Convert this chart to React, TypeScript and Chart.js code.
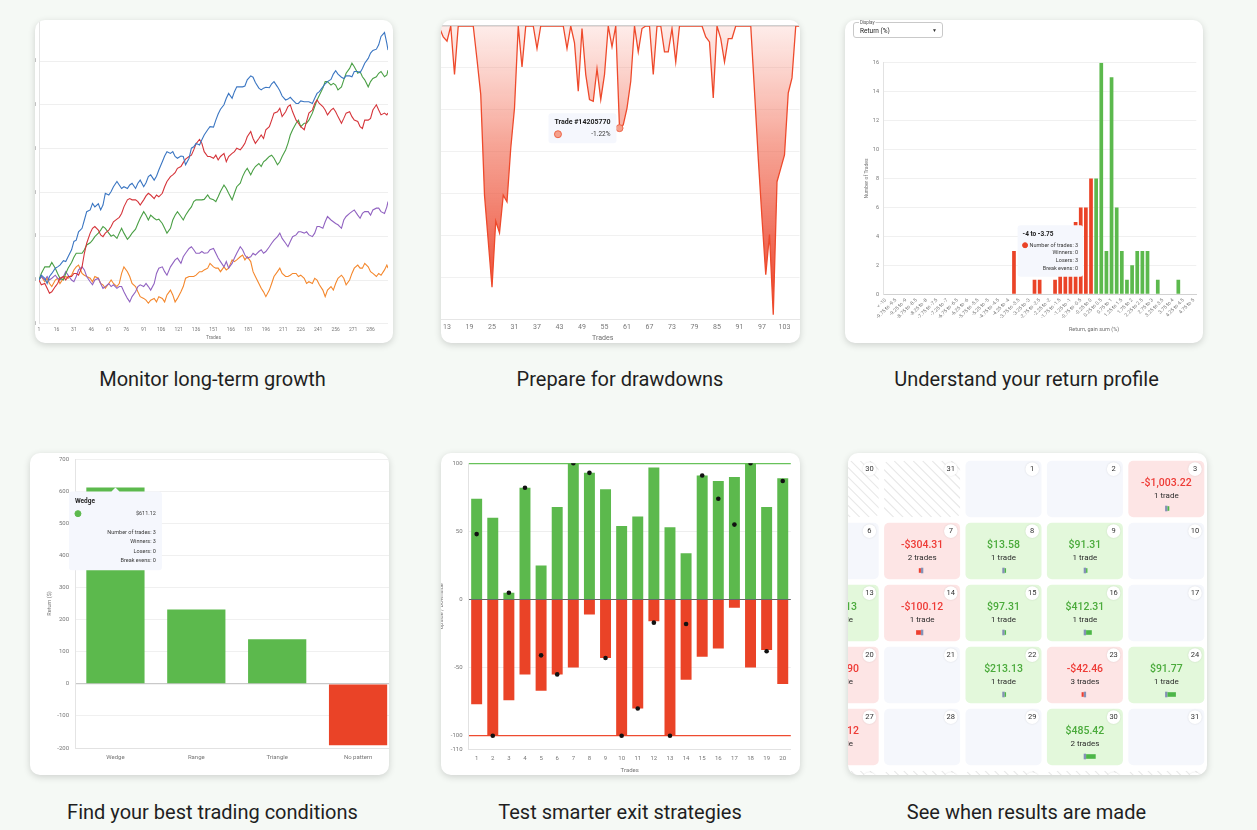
import React, { useEffect, useRef } from 'react';
import { Chart, registerables } from 'chart.js';

Chart.register(...registerables);
Chart.defaults.font.family = 'Roboto, "Noto Sans", sans-serif';
Chart.defaults.color = '#6f6f6f';

const PAGE_BG = '#f5f9f5';
const GREEN = '#5cb94d';
const RED = '#ea4327';

/* ---------- Monitor long-term growth: five equity paths ($) ---------- */
const GROWTH_TRADES = [
  1, 3, 6, 8, 10, 12, 15, 17, 19, 22, 24, 26, 29, 31, 33, 35, 38, 40, 42, 45, 47, 49, 52, 54, 56, 58, 61, 63, 65, 68,
  70, 72, 74, 77, 79, 81, 84, 86, 88, 91, 93, 95, 97, 100, 102, 104, 107, 109, 111, 114, 116, 118, 120, 123, 125, 127,
  130, 132, 134, 136, 139, 141, 143, 146, 148, 151, 153, 155, 157, 160, 162, 164, 167, 169, 171, 174, 176, 178, 180,
  183, 185, 187, 190, 192, 194, 196, 199, 201, 203, 206, 208, 210, 213, 215, 217, 219, 222, 224, 226, 229, 231, 233,
  236, 238, 240, 242, 245, 247, 249, 252, 254, 256, 258, 261, 263, 265, 268, 270, 272, 275, 277, 279, 281, 284, 286,
  288, 291, 293, 295, 298, 300, 301,
];
const GROWTH_TICKS = [1, 16, 31, 46, 61, 76, 91, 106, 121, 136, 151, 166, 181, 196, 211, 226, 241, 256, 271, 286];
const PATH_BLUE = [
  0, 110, 40, -80, 80, 150, 270, 300, 340, 440, 420, 530, 690, 880, 910, 1100, 1180, 1370, 1560, 1600, 1750, 1670,
  1740, 1600, 1710, 1980, 1940, 2020, 2130, 2250, 2170, 2090, 2130, 2090, 2170, 2210, 2090, 2210, 2280, 2130, 2220,
  2360, 2400, 2280, 2370, 2510, 2700, 2830, 2930, 2890, 2930, 2820, 2780, 2830, 2820, 2630, 2780, 3010, 3040, 3120,
  3080, 3200, 3310, 3430,
  3500, 3490, 3650, 3790, 3900, 4000, 4150, 4260, 4150, 4300, 4410, 4410, 4410, 4430, 4570, 4660, 4630, 4510, 4380,
  4340, 4380, 4400, 4390, 4480, 4530, 4410, 4320, 4200, 4110, 4130, 4170, 4110, 4030, 4030, 4090, 4070, 4070, 4070,
  4030, 4150, 4260, 4300, 4410, 4480, 4530, 4580, 4700, 4780, 4700, 4630, 4600, 4660, 4660, 4640, 4760, 4760, 4730,
  4830, 4950, 5060, 5180, 5240, 5270, 5370, 5560, 5650, 5400, 5250,
];
const PATH_RED = [
  0, -110, -80, -190, -300, -270, -150, -80, 40, 80, 0, 80, 80, 150, 150, 110, 300, 610, 840, 1070, 1180, 1220, 1140,
  1030, 990, 1070, 1140, 1220, 1330, 1390, 1430, 1520, 1670, 1830, 1860, 1830, 1830, 1790, 1710, 1830, 1920, 1980,
  1940, 1860, 1940, 1900, 1980, 2130, 2250, 2360, 2400, 2450, 2550, 2590, 2680, 2760, 2820, 2850, 2970, 3110, 3210,
  3120, 2930, 2820,
  2820, 2780, 2850, 2740, 2820, 2890, 2700, 2820, 2890, 2930, 3010, 2970, 3040, 3120, 3270, 3390, 3230, 3120, 3230,
  3310, 3230, 3430, 3500, 3650, 3810, 3840, 3920, 3730, 3840, 3960, 4000, 3840, 3650, 3580, 3500, 3430, 3620, 3810,
  3880, 4030, 4110, 4030, 3960, 3880, 3770, 3880, 3920, 3840, 3730, 3580, 3690, 3810, 3840, 3730, 3650, 3620, 3500,
  3460, 3650, 3650, 3690, 3880, 4000, 3880, 3770, 3810, 3770, 3810,
];
const PATH_GREEN = [
  0, 150, 300, 300, 300, 400, 270, 150, 40, 0, 150, 270, 400, 520, 610, 610, 610, 690, 800, 850, 910, 990, 1070, 1140,
  1220, 1180, 1070, 1000, 1030, 950, 1070, 1180, 1070, 930, 990, 1070, 1160, 1290, 1410, 1560, 1480, 1370, 1480, 1410,
  1370, 1390, 1290, 1180, 1070, 1180, 1370, 1480, 1560, 1450, 1370, 1480, 1600, 1670, 1790, 1830, 1830, 1830, 1840,
  1940,
  1860, 1830, 1790, 1900, 2020, 2170, 2090, 1980, 1830, 1980, 2130, 2210, 2360, 2470, 2550, 2400, 2510, 2590, 2660,
  2590, 2700, 2740, 2820, 2850, 2780, 2630, 2700, 2820, 2970, 3120, 3310, 3430, 3580, 3650, 3500, 3580, 3580, 3650,
  3810, 3960, 4110, 4220, 4380, 4530, 4530, 4450, 4490, 4450, 4340, 4410, 4570, 4720, 4830, 4950, 4870, 4720, 4760,
  4640, 4570, 4410, 4530, 4600, 4640, 4720, 4760, 4640, 4680, 4790,
];
const PATH_PURPLE = [
  0, 80, 0, 80, 0, 40, 110, 40, 0, 80, 190, 110, 0, -40, 80, 230, 300, 230, 80, -40, -110, 0, 40, -80, -190, -150,
  -80, -150, -110, -190, -150, -150, -270, -420, -500, -380, -270, -150, -110, -150, -80, -150, -230, -80, 150, 270,
  300, 190, 110, 300, 380, 460, 500, 380, 530, 610, 720, 760, 690, 610, 610, 650, 610, 620,
  690, 720, 610, 500, 420, 300, 420, 270, 380, 500, 610, 760, 690, 570, 500, 530, 610, 570, 650, 690, 610, 650, 760,
  840, 910, 990, 1070, 950, 840, 760, 880, 990, 1030, 1100, 1100, 1070, 1100, 1030, 990, 1070, 1220, 1220, 1180, 1330,
  1450, 1370, 1330, 1290, 1260, 1180, 1370, 1450, 1520, 1560, 1600, 1480, 1410, 1520, 1560, 1560, 1480, 1600, 1640,
  1640, 1560, 1520, 1670, 1790,
];
const PATH_ORANGE = [
  0, 80, -40, 40, -80, -150, 0, 40, -80, 40, 80, 40, 110, 230, 300, 340, 150, 110, 80, 40, -40, 80, 40, -80, -110,
  -190, -80, 0, -80, -150, -80, 150, 300, 190, 80, -80, -150, -270, -380, -420, -460, -530, -460, -420, -500, -380,
  -420, -500, -340, -230, -340, -500, -420, -270, -150, 40, 80, 80, 80, 110, 190, 190, 230, 270,
  380, 300, 270, 270, 190, 300, 230, 270, 460, 420, 460, 530, 570, 460, 530, 420, 190, 80, -80, -190, -270, -380, -230,
  -80, 80, 190, 270, 150, 80, 80, 110, 150, 150, 80, 110, 40, -80, -40, -80, 40, 0, -110, -230, -380, -230, -150, -230,
  -80, 40, 110, 40, -110, 0, 150, 270, 340, 270, 270, 380, 300, 190, 150, 80, 150, 110, 230, 340, 270,
];
const PATH_COLORS = ['#3b76c2', '#d5343a', '#4a9f45', '#9163c1', '#f4872c'];

/* ---------- Prepare for drawdowns: drawdown per trade (%) ---------- */
const DD_TRADES = [
  11, 12, 13, 14, 15, 16, 17, 18, 19, 20, 21, 22, 23, 24, 25, 26, 27, 28, 29, 30, 31, 32, 33, 34, 35, 36, 37, 38, 39,
  40, 41, 42, 43, 44, 45, 46, 47, 48, 49, 50, 51, 52, 53, 54, 55, 56, 57, 58, 59, 60, 61, 62, 63, 64, 65, 66, 67, 68,
  69, 70, 71, 72, 73, 74, 75, 76, 77, 78, 79, 80, 81, 82, 83, 84, 85, 86, 87, 88, 89, 90, 91, 92, 93, 94, 95, 96, 97,
  98, 99, 100, 101, 102, 103, 104, 105, 106, 107,
];
const DD_TICKS = [13, 19, 25, 31, 37, 43, 49, 55, 61, 67, 73, 79, 85, 91, 97, 103];
const DD_VALUES = [
  -0.02, -0.13, -0.18, 0, -0.58, 0, 0, 0, 0, 0, -0.4, -0.82, -2.02, -2.57, -3.12, -2.33, -2.47, -2.02, -2.1, -1.46,
  -0.98, 0, -0.49, 0, 0, 0, -0.27, 0, 0, 0, 0, 0, 0, 0, -0.27, 0, -0.2, -0.78, -0.03, -0.58, -0.88, -0.9, -0.51, -0.88,
  -0.58, 0, -0.25, 0, -1.22, -1.18, -0.98, -0.66, 0, -0.31, -0.03, 0, 0, -0.58, 0, 0, -0.31, -0.31, -0.03, -0.43, 0,
  0, 0, 0, 0, 0, 0, -0.13, -0.19, -0.86, 0, -0.15, -0.43, -0.15, -0.15, 0, 0, 0, 0, 0, -0.78, -1.58, -2.3, -2.97,
  -2.49, -3.45, -1.86, -1.7, -1.54, -0.8, -0.62, 0, 0,
];
const DD_FOCUS_TRADE = 59;
const DD_FOCUS_ID = '14205770';

/* ---------- Understand your return profile: histogram ---------- */
const RETURN_BINS = [
  '< -10', '-10 to -9.75', '-9.75 to -9.5', '-9.5 to -9.25', '-9.25 to -9', '-9 to -8.75', '-8.75 to -8.5',
  '-8.5 to -8.25', '-8.25 to -8', '-8 to -7.75', '-7.75 to -7.5', '-7.5 to -7.25', '-7.25 to -7', '-7 to -6.75',
  '-6.75 to -6.5', '-6.5 to -6.25', '-6.25 to -6', '-6 to -5.75', '-5.75 to -5.5', '-5.5 to -5.25', '-5.25 to -5',
  '-5 to -4.75', '-4.75 to -4.5', '-4.5 to -4.25', '-4.25 to -4', '-4 to -3.75', '-3.75 to -3.5', '-3.5 to -3.25',
  '-3.25 to -3', '-3 to -2.75', '-2.75 to -2.5', '-2.5 to -2.25', '-2.25 to -2', '-2 to -1.75', '-1.75 to -1.5',
  '-1.5 to -1.25', '-1.25 to -1', '-1 to -0.75', '-0.75 to -0.5', '-0.5 to -0.25', '-0.25 to 0', '0 to 0.25',
  '0.25 to 0.5', '0.5 to 0.75', '0.75 to 1', '1 to 1.25', '1.25 to 1.5', '1.5 to 1.75', '1.75 to 2', '2 to 2.25',
  '2.25 to 2.5', '2.5 to 2.75', '2.75 to 3', '3 to 3.25', '3.25 to 3.5', '3.5 to 3.75', '3.75 to 4', '4 to 4.25',
  '4.25 to 4.5', '4.5 to 4.75', '4.75 to 5',
];
const BIN_COUNTS = [
  0, 0, 0, 0, 0, 0, 0, 0, 0, 0, 0, 0, 0, 0, 0, 0, 0, 0, 0, 0, 0, 0, 0, 0, 0, 3, 0, 0, 0, 1, 1, 0, 0, 1, 2, 2, 3, 5, 6,
  6, 8, 8, 16, 3, 15, 6, 3, 1, 2, 3, 3, 3, 0, 1, 0, 0, 0, 1, 0, 0, 0,
];
const BIN_FOCUS = 25;

/* ---------- Find your best trading conditions ---------- */
const PATTERNS = ['Wedge', 'Range', 'Triangle', 'No pattern'];
const PATTERN_RETURNS = [611.12, 231.7, 138.4, -191.2];
const PATTERN_TRADES = [3, 4, 3, 5];
const PATTERN_WINNERS = [3, 3, 2, 1];
const PATTERN_LOSERS = [0, 1, 1, 4];
const PATTERN_BREAKEVENS = [0, 0, 0, 0];

/* ---------- Test smarter exit strategies ---------- */
const EXIT_TRADES = [1, 2, 3, 4, 5, 6, 7, 8, 9, 10, 11, 12, 13, 14, 15, 16, 17, 18, 19, 20];
const UPSIDE = [74, 60, 5, 82, 25, 68, 100, 93, 81, 54, 61, 97, 53, 34, 91, 87, 90, 100, 68, 89];
const DOWNSIDE = [-77, -100, -74, -55, -67, -55, -50, -11, -43, -100, -80, -16, -100, -59, -42, -36, -6, -50, -37, -62];
const EXIT_AT = [48, -100, 5, 82, -41, -55, 100, 93, -43, -100, -80, -17, -100, -18, 91, 74, 55, 100, -38, 87];

/* ---------- See when results are made: calendar ---------- */
const CAL_WEEKS = [
  [30, 31, 1, 2, 3],
  [6, 7, 8, 9, 10],
  [13, 14, 15, 16, 17],
  [20, 21, 22, 23, 24],
  [27, 28, 29, 30, 31],
  [3, 4, 5, 6, 7],
];
const PNL_DAYS = [3, 7, 8, 9, 13, 14, 15, 16, 20, 22, 23, 24, 27, 30];
const PNL_AMOUNTS = [-1003.22, -304.31, 13.58, 91.31, 45.13, -100.12, 97.31, 412.31, -87.9, 213.13, -42.46, 91.77, -14.12, 485.42];
const PNL_TRADES = [1, 2, 1, 1, 1, 1, 1, 1, 1, 1, 3, 1, 1, 2];
const PNL_R = [0.6, -0.7, 0.45, 0.45, 0.5, -1.6, 0.45, 1.9, -1, 0.45, -0.7, 2.8, -0.9, 3.2];

/* ---------- shared helpers ---------- */
const baseOptions = {
  animation: false,
  responsive: false,
  maintainAspectRatio: false,
  events: [],
};

function pinTooltip(chart: any, datasetIndex: number, index: number, hover: boolean) {
  const el = chart.getDatasetMeta(datasetIndex).data[index];
  if (hover) chart.setActiveElements([{ datasetIndex, index }]);
  chart.tooltip.setActiveElements([{ datasetIndex, index }], { x: el.x, y: el.y });
  chart.update();
}

function captionPlugin(text: string, x: number, y: number, size: number) {
  return {
    id: 'axisCaption',
    afterDraw(chart: any) {
      const c = chart.ctx;
      c.save();
      c.font = `${size}px Roboto, sans-serif`;
      c.fillStyle = '#6f6f6f';
      c.textAlign = 'center';
      c.textBaseline = 'middle';
      c.fillText(text, x, y);
      c.restore();
    },
  };
}

const tooltipLook = {
  enabled: true,
  backgroundColor: '#f5f7fd',
  titleColor: '#1d1d1d',
  bodyColor: '#3a3a3a',
  footerColor: '#3a3a3a',
  borderWidth: 0,
  cornerRadius: 3,
  displayColors: true,
  usePointStyle: true,
  bodyAlign: 'right',
};

/* ---------- chart configs ---------- */
function growthConfig() {
  const series = [PATH_BLUE, PATH_RED, PATH_GREEN, PATH_PURPLE, PATH_ORANGE];
  return {
    type: 'line',
    data: {
      datasets: series.map((vals, i) => ({
        data: vals.map((v, j) => ({ x: GROWTH_TRADES[j], y: v })),
        borderColor: PATH_COLORS[i],
        borderWidth: 1.1,
        pointRadius: 0,
        tension: 0,
      })),
    },
    options: {
      ...baseOptions,
      layout: { padding: { top: 7.2, right: 5, bottom: 0, left: 0 } },
      plugins: { legend: { display: false }, tooltip: { enabled: false } },
      scales: {
        x: {
          type: 'linear',
          min: 1,
          max: 301,
          afterBuildTicks: (s: any) => {
            s.ticks = GROWTH_TICKS.map((v) => ({ value: v }));
          },
          afterFit: (s: any) => {
            s.height = 19.2;
          },
          grid: { display: false, drawTicks: false },
          border: { display: false },
          ticks: { font: { size: 5 }, color: '#7a7a7a', padding: 3, maxRotation: 0, autoSkip: false },
          title: { display: true, text: 'Trades', font: { size: 5 }, color: '#777', padding: { top: 0, bottom: 2 } },
        },
        y: {
          min: -1000,
          max: 6000,
          afterFit: (s: any) => {
            s.width = 30;
          },
          grid: { color: '#efefef', drawTicks: false },
          border: { color: '#e4e4e4' },
          ticks: { stepSize: 1000, font: { size: 5 }, color: '#7a7a7a', padding: 3 },
        },
      },
    },
  };
}

function drawdownConfig() {
  return {
    type: 'line',
    data: {
      labels: DD_TRADES,
      datasets: [
        {
          data: DD_VALUES,
          borderColor: '#ee4a2c',
          borderWidth: 1.3,
          pointRadius: 0,
          pointHoverRadius: 3.5,
          pointHoverBackgroundColor: '#f5a18c',
          pointHoverBorderColor: '#ee6548',
          pointHoverBorderWidth: 1,
          tension: 0,
          fill: 'origin',
          backgroundColor: (ctx: any) => {
            const { chart } = ctx;
            const area = chart.chartArea;
            if (!area) return 'rgba(238,80,55,0.4)';
            const g = chart.ctx.createLinearGradient(0, area.top, 0, area.bottom);
            g.addColorStop(0, 'rgba(246,120,100,0.14)');
            g.addColorStop(0.4, 'rgba(240,100,75,0.58)');
            g.addColorStop(1, 'rgba(234,58,34,1)');
            return g;
          },
        },
      ],
    },
    options: {
      ...baseOptions,
      layout: { padding: { top: 6, right: 5.5, bottom: 0, left: 0 } },
      plugins: {
        legend: { display: false },
        tooltip: {
          ...tooltipLook,
          xAlign: 'right',
          yAlign: 'center',
          caretSize: 0,
          caretPadding: 3,
          padding: { top: 5, bottom: 5, left: 6, right: 6 },
          titleFont: { size: 7, weight: 'bold' },
          titleMarginBottom: 3.8,
          bodyFont: { size: 6.5 },
          boxWidth: 7,
          boxHeight: 7,
          callbacks: {
            title: () => `Trade #${DD_FOCUS_ID}`,
            label: (c: any) => `${c.parsed.y.toFixed(2)}%`,
            labelColor: () => ({ borderColor: '#ee6548', backgroundColor: '#f5a18c', borderWidth: 1 }),
            labelPointStyle: () => ({ pointStyle: 'circle', rotation: 0 }),
          },
        },
      },
      scales: {
        x: {
          afterFit: (s: any) => {
            s.height = 24;
          },
          grid: { display: false, drawTicks: false },
          border: { color: '#e6e6e6' },
          ticks: {
            autoSkip: false,
            maxRotation: 0,
            font: { size: 7 },
            color: '#777',
            padding: 4.5,
            callback: (_v: any, i: number) => (DD_TICKS.includes(DD_TRADES[i]) ? String(DD_TRADES[i]) : ''),
          },
        },
        y: {
          min: -3.5,
          max: 0,
          afterFit: (s: any) => {
            s.width = 39.5;
          },
          grid: {
            drawTicks: false,
            color: (c: any) => (c.tick && c.tick.value === 0 ? '#cfcfcf' : '#f1f1f1'),
            lineWidth: (c: any) => (c.tick && c.tick.value === 0 ? 1.5 : 1),
          },
          border: { display: false },
          ticks: { display: false, stepSize: 0.5 },
        },
      },
    },
    plugins: [captionPlugin('Trades', 202.7, 318.3, 7)],
  };
}

function histogramConfig() {
  const isLoss = (label: string) => label.startsWith('-') || label.startsWith('<');
  return {
    type: 'bar',
    data: {
      labels: RETURN_BINS,
      datasets: [
        {
          data: BIN_COUNTS,
          backgroundColor: RETURN_BINS.map((b) => (isLoss(b) ? RED : GREEN)),
          barPercentage: 0.72,
          categoryPercentage: 1,
        },
      ],
    },
    options: {
      ...baseOptions,
      layout: { padding: { top: 42.7, right: 6.7, bottom: 0, left: 0 } },
      plugins: {
        legend: { display: false },
        tooltip: {
          ...tooltipLook,
          xAlign: 'left',
          yAlign: 'center',
          caretSize: 0,
          caretPadding: 3.6,
          padding: 5,
          titleFont: { size: 6.5, weight: 'bold' },
          titleMarginBottom: 4,
          bodyFont: { size: 5.5 },
          bodySpacing: 1.1,
          boxWidth: 5,
          boxHeight: 5,
          callbacks: {
            title: (items: any) => RETURN_BINS[items[0].dataIndex],
            label: (c: any) => {
              const n = BIN_COUNTS[c.dataIndex];
              const loss = isLoss(RETURN_BINS[c.dataIndex]);
              return [
                `Number of trades: ${n}`,
                `Winners: ${loss ? 0 : n}`,
                `Losers: ${loss ? n : 0}`,
                'Break evens: 0',
              ];
            },
            labelColor: () => ({ borderColor: RED, backgroundColor: RED, borderWidth: 0 }),
            labelPointStyle: () => ({ pointStyle: 'circle', rotation: 0 }),
          },
        },
      },
      scales: {
        x: {
          afterFit: (s: any) => {
            s.height = 48.7;
          },
          grid: { display: false, drawTicks: false },
          border: { color: '#d2d2d2' },
          ticks: {
            autoSkip: false,
            minRotation: 45,
            maxRotation: 45,
            font: { size: 5 },
            color: '#777',
            padding: 3,
            callback: (_v: any, i: number) => (i % 2 === 0 ? RETURN_BINS[i] : ''),
          },
        },
        y: {
          min: 0,
          max: 16,
          afterFit: (s: any) => {
            s.width = 38;
          },
          grid: { color: '#f0f0f0', drawTicks: false },
          border: { color: '#e2e2e2' },
          ticks: { stepSize: 2, font: { size: 5.5 }, color: '#777', padding: 4 },
          title: { display: true, text: 'Number of Trades', font: { size: 5 }, color: '#777', padding: { top: 19, bottom: 0 } },
        },
      },
    },
    plugins: [captionPlugin('Return, gain sum (%)', 249, 310, 5.5)],
  };
}

function patternConfig() {
  return {
    type: 'bar',
    data: {
      labels: PATTERNS,
      datasets: [
        {
          data: PATTERN_RETURNS,
          backgroundColor: PATTERN_RETURNS.map((v) => (v >= 0 ? GREEN : RED)),
          barPercentage: 0.72,
          categoryPercentage: 1,
        },
      ],
    },
    options: {
      ...baseOptions,
      layout: { padding: { top: 10, right: 4.5, bottom: 0, left: 0 } },
      plugins: {
        legend: { display: false },
        tooltip: {
          ...tooltipLook,
          xAlign: 'center',
          yAlign: 'top',
          caretSize: 4,
          caretPadding: 0,
          padding: 6,
          titleFont: { size: 6.5, weight: 'bold' },
          titleMarginBottom: 5,
          bodyFont: { size: 5.5 },
          footerFont: { size: 5.5, weight: 'normal' },
          footerAlign: 'right',
          footerSpacing: 3,
          footerMarginTop: 12,
          boxWidth: 6,
          boxHeight: 6,
          boxPadding: 53,
          callbacks: {
            title: (items: any) => PATTERNS[items[0].dataIndex],
            label: (c: any) => `$${PATTERN_RETURNS[c.dataIndex].toFixed(2)}`,
            footer: (items: any) => {
              const i = items[0].dataIndex;
              return [
                `Number of trades: ${PATTERN_TRADES[i]}`,
                `Winners: ${PATTERN_WINNERS[i]}`,
                `Losers: ${PATTERN_LOSERS[i]}`,
                `Break evens: ${PATTERN_BREAKEVENS[i]}`,
              ];
            },
            labelColor: () => ({ borderColor: GREEN, backgroundColor: GREEN, borderWidth: 0 }),
            labelPointStyle: () => ({ pointStyle: 'circle', rotation: 0 }),
          },
        },
      },
      scales: {
        x: {
          afterFit: (s: any) => {
            s.height = 27;
          },
          grid: { display: false, drawTicks: false },
          border: { color: '#e2e2e2' },
          ticks: { font: { size: 6 }, color: '#777', padding: 5.5, maxRotation: 0 },
        },
        y: {
          min: -200,
          max: 700,
          afterFit: (s: any) => {
            s.width = 45;
          },
          grid: {
            drawTicks: false,
            color: (c: any) => (c.tick && c.tick.value === 0 ? '#c9c9c9' : '#f0f0f0'),
            lineWidth: (c: any) => (c.tick && c.tick.value === 0 ? 1.3 : 1),
          },
          border: { color: '#e4e4e4' },
          ticks: { stepSize: 100, font: { size: 6 }, color: '#777', padding: 6 },
          title: { display: true, text: 'Return ($)', font: { size: 5.5 }, color: '#777', padding: { top: 16.7, bottom: 0 } },
        },
      },
    },
  };
}

function exitConfig() {
  return {
    type: 'bar',
    data: {
      labels: EXIT_TRADES,
      datasets: [
        {
          type: 'line',
          data: EXIT_AT,
          showLine: false,
          pointRadius: 2.3,
          pointStyle: 'circle',
          pointBackgroundColor: '#111',
          pointBorderColor: '#111',
          pointBorderWidth: 0,
          order: 0,
        },
        { data: UPSIDE, backgroundColor: GREEN, grouped: false, barPercentage: 0.68, categoryPercentage: 1, order: 1 },
        { data: DOWNSIDE, backgroundColor: RED, grouped: false, barPercentage: 0.68, categoryPercentage: 1, order: 1 },
      ],
    },
    options: {
      ...baseOptions,
      layout: { padding: { top: 10.3, right: 9.2, bottom: 0, left: 0 } },
      plugins: { legend: { display: false }, tooltip: { enabled: false } },
      scales: {
        x: {
          afterFit: (s: any) => {
            s.height = 25.7;
          },
          grid: { display: false, drawTicks: false },
          border: { color: '#e2e2e2' },
          ticks: { font: { size: 6 }, color: '#777', padding: 6, maxRotation: 0 },
          title: { display: true, text: 'Trades', font: { size: 6 }, color: '#777', padding: { top: 0, bottom: 0.7 } },
        },
        y: {
          min: -110,
          max: 100,
          afterFit: (s: any) => {
            s.width = 27.6;
          },
          grid: {
            drawTicks: false,
            color: (c: any) => {
              const v = c.tick ? c.tick.value : null;
              if (v === 100) return '#67c25a';
              if (v === -100) return '#ee4b30';
              if (v === 0) return '#666666';
              return '#eeeeee';
            },
            lineWidth: (c: any) => {
              const v = c.tick ? c.tick.value : null;
              return v === 100 || v === -100 ? 1.3 : 1;
            },
          },
          border: { color: '#e2e2e2' },
          ticks: { stepSize: 50, font: { size: 6 }, color: '#777', padding: 6 },
          title: { display: true, text: 'Upside / Downside', font: { size: 5.5 }, color: '#777', padding: { top: -2.5, bottom: 0 } },
        },
      },
    },
  };
}

const calendarCells = {
  id: 'calendarCells',
  afterDatasetsDraw(chart: any) {
    const { ctx } = chart;
    const xs = chart.scales.x;
    const ys = chart.scales.y;
    const pitchX = Math.abs(xs.getPixelForValue(1) - xs.getPixelForValue(0));
    const pitchY = Math.abs(ys.getPixelForValue(1) - ys.getPixelForValue(0));
    const w = pitchX - 5.4;
    const h = pitchY - 5.6;
    const lastRow = CAL_WEEKS.length - 1;
    CAL_WEEKS.forEach((week, r) => {
      week.forEach((day, c) => {
        const cx = xs.getPixelForValue(c);
        const cy = ys.getPixelForValue(r);
        const left = cx - w / 2;
        const top = cy - h / 2;
        const outside = (r === 0 && day > 7) || (r === lastRow && day < 8);
        const k = outside ? -1 : PNL_DAYS.indexOf(day);
        const pnl = k >= 0 ? PNL_AMOUNTS[k] : 0;

        ctx.save();
        ctx.beginPath();
        ctx.roundRect(left, top, w, h, 5);
        if (outside) {
          ctx.fillStyle = '#ffffff';
          ctx.fill();
          ctx.clip();
          ctx.strokeStyle = '#e8e8e8';
          ctx.lineWidth = 1.1;
          for (let a = left - h; a < left + w; a += 9.5) {
            ctx.beginPath();
            ctx.moveTo(a, top);
            ctx.lineTo(a + h, top + h);
            ctx.stroke();
          }
        } else {
          ctx.fillStyle = k < 0 ? '#f5f7fc' : pnl < 0 ? '#fde5e5' : '#e3f8db';
          ctx.fill();
        }
        ctx.restore();

        // day badge
        const bx = left + w - 9.3;
        const by = top + 8.3;
        ctx.save();
        ctx.shadowColor = 'rgba(0,0,0,0.12)';
        ctx.shadowBlur = 2;
        ctx.beginPath();
        ctx.arc(bx, by, 6.8, 0, Math.PI * 2);
        ctx.fillStyle = '#ffffff';
        ctx.fill();
        ctx.restore();
        ctx.save();
        ctx.font = '400 7.5px Roboto, sans-serif';
        ctx.fillStyle = '#333';
        ctx.textAlign = 'center';
        ctx.textBaseline = 'middle';
        ctx.fillText(String(day), bx, by + 0.3);
        ctx.restore();

        if (k >= 0) {
          const amount =
            (pnl < 0 ? '-' : '') +
            '$' +
            Math.abs(pnl).toLocaleString('en-US', { minimumFractionDigits: 2, maximumFractionDigits: 2 });
          const n = PNL_TRADES[k];
          ctx.save();
          ctx.textAlign = 'center';
          ctx.textBaseline = 'middle';
          ctx.font = '500 10.5px Roboto, sans-serif';
          ctx.fillStyle = pnl < 0 ? '#ee3b36' : '#4bab3c';
          ctx.fillText(amount, cx, top + 22.3);
          ctx.font = '400 8px Roboto, sans-serif';
          ctx.fillStyle = '#2b2b2b';
          ctx.fillText(`${n} ${n === 1 ? 'trade' : 'trades'}`, cx, top + 34.7);
          // mini R bar
          const iy = top + 47.7;
          const len = Math.abs(PNL_R[k]) * 3;
          ctx.fillStyle = '#8591b6';
          ctx.fillRect(cx - 1.2, iy - 2.8, 2.4, 5.6);
          if (PNL_R[k] >= 0) {
            ctx.fillStyle = '#4cb648';
            ctx.fillRect(cx + 1.2, iy - 2.3, len, 4.6);
          } else {
            ctx.fillStyle = '#ee3f2f';
            ctx.fillRect(cx - 1.2 - len, iy - 2.3, len, 4.6);
          }
          ctx.restore();
        }
      });
    });
  },
};

function calendarConfig() {
  return {
    type: 'scatter',
    data: { datasets: [{ data: [], pointRadius: 0 }] },
    options: {
      ...baseOptions,
      layout: { padding: 0 },
      plugins: { legend: { display: false }, tooltip: { enabled: false } },
      scales: {
        x: { type: 'linear', min: -0.5, max: 4.5, display: false },
        y: { type: 'linear', min: -0.5, max: 5.5, reverse: true, display: false },
      },
    },
    plugins: [calendarCells],
  };
}

/* ---------- components ---------- */
function ChartCanvas(props: {
  left: number;
  top: number;
  width: number;
  height: number;
  build: () => any;
  after?: (c: any) => void;
}) {
  const ref = useRef<HTMLCanvasElement | null>(null);
  useEffect(() => {
    if (!ref.current) return;
    const chart = new Chart(ref.current, props.build());
    if (props.after) props.after(chart);
    return () => chart.destroy();
  }, []);
  return (
    <canvas
      ref={ref}
      width={props.width}
      height={props.height}
      style={{ position: 'absolute', left: props.left, top: props.top, width: props.width, height: props.height }}
    />
  );
}

function Card(props: { x: number; y: number; w: number; h: number; children?: any }) {
  return (
    <div
      style={{
        position: 'absolute',
        left: props.x,
        top: props.y,
        width: props.w,
        height: props.h,
        background: '#ffffff',
        borderRadius: 10,
        boxShadow: '0 2px 7px rgba(0,0,0,0.16)',
        overflow: 'hidden',
      }}
    >
      {props.children}
    </div>
  );
}

function Caption(props: { cx: number; top: number; text: string }) {
  return (
    <div
      style={{
        position: 'absolute',
        left: props.cx - 250,
        top: props.top,
        width: 500,
        textAlign: 'center',
        fontSize: 20,
        lineHeight: '24px',
        color: '#1f1f1f',
        fontFamily: 'Roboto, sans-serif',
        whiteSpace: 'nowrap',
      }}
    >
      {props.text}
    </div>
  );
}

function SmallText(props: { left: number; top: number; size: number; color: string; text: string; bg?: string }) {
  // rendered at double size and scaled down so tiny labels stay crisp
  return (
    <span
      style={{
        position: 'absolute',
        left: props.left,
        top: props.top,
        fontSize: props.size * 2,
        lineHeight: 1,
        color: props.color,
        transform: 'scale(0.5)',
        transformOrigin: 'left top',
        whiteSpace: 'nowrap',
        background: props.bg,
        padding: props.bg ? '0 2px' : 0,
        fontFamily: 'Roboto, sans-serif',
      }}
    >
      {props.text}
    </span>
  );
}

export default function App() {
  return (
    <div
      style={{
        position: 'absolute',
        left: 0,
        top: 0,
        width: 1257,
        height: 830,
        background: PAGE_BG,
        overflow: 'hidden',
        fontFamily: 'Roboto, sans-serif',
      }}
    >
      <Card x={35} y={20} w={358} h={323}>
        <ChartCanvas left={-26} top={-10} width={384} height={333} build={growthConfig} />
      </Card>

      <Card x={441} y={20} w={359} h={323}>
        <ChartCanvas
          left={-41}
          top={0}
          width={405}
          height={323}
          build={drawdownConfig}
          after={(c) => pinTooltip(c, 0, DD_TRADES.indexOf(DD_FOCUS_TRADE), true)}
        />
      </Card>

      <Card x={845} y={20} w={358} h={323}>
        <ChartCanvas
          left={0}
          top={0}
          width={358}
          height={323}
          build={histogramConfig}
          after={(c) => pinTooltip(c, 0, BIN_FOCUS, false)}
        />
        <div
          style={{
            position: 'absolute',
            left: 8,
            top: 2,
            width: 90,
            height: 16,
            boxSizing: 'border-box',
            border: '1px solid #c9c9c9',
            borderRadius: 3,
          }}
        >
          <SmallText left={5} top={-3.5} size={4.5} color="#555" text="Display" bg="#ffffff" />
          <SmallText left={6} top={3.5} size={6.5} color="#222" text="Return (%)" />
          <SmallText left={78} top={4.5} size={5} color="#333" text="▼" />
        </div>
      </Card>

      <Card x={30} y={453} w={359} h={322}>
        <ChartCanvas
          left={0}
          top={-4}
          width={373}
          height={326}
          build={patternConfig}
          after={(c) => pinTooltip(c, 0, 0, false)}
        />
      </Card>

      <Card x={441} y={453} w={359} h={322}>
        <ChartCanvas left={0} top={0} width={359} height={322} build={exitConfig} />
      </Card>

      <Card x={848} y={453} w={359} h={322}>
        <ChartCanvas left={-48} top={5} width={407} height={372} build={calendarConfig} />
      </Card>

      <Caption cx={212.5} top={367} text="Monitor long-term growth" />
      <Caption cx={620} top={367} text="Prepare for drawdowns" />
      <Caption cx={1026.5} top={367} text="Understand your return profile" />
      <Caption cx={212.5} top={799.5} text="Find your best trading conditions" />
      <Caption cx={620} top={799.5} text="Test smarter exit strategies" />
      <Caption cx={1026.5} top={799.5} text="See when results are made" />
    </div>
  );
}
